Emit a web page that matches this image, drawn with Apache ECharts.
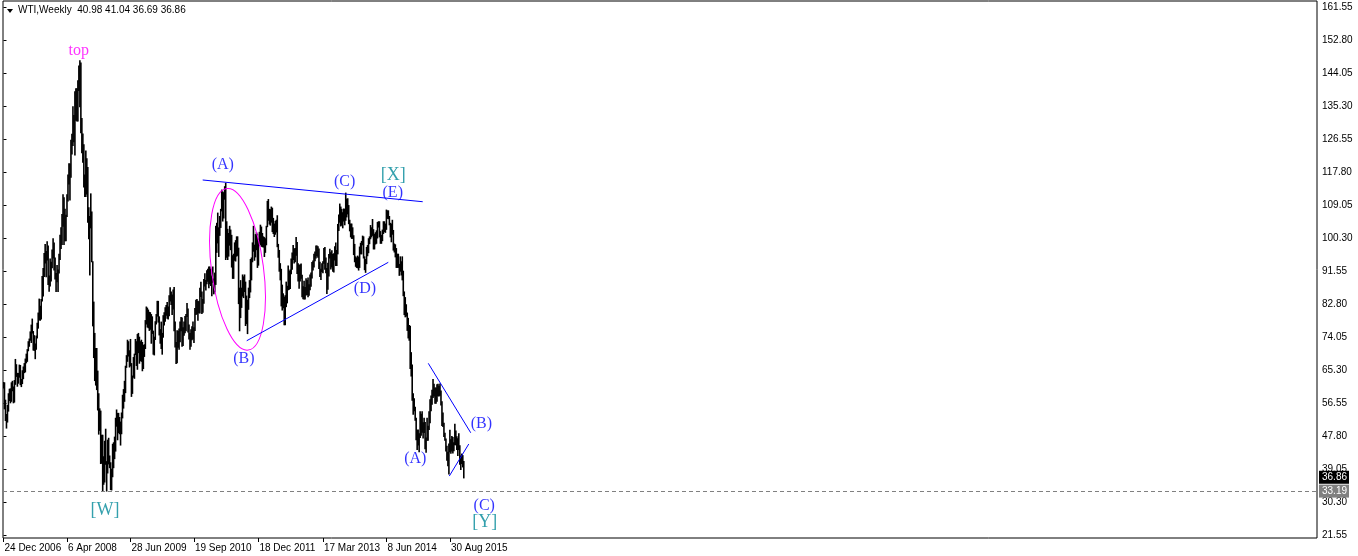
<!DOCTYPE html>
<html>
<head>
<meta charset="utf-8">
<script src="https://cdn.jsdelivr.net/npm/echarts@6/dist/echarts.min.js"></script>
<style>
html,body{margin:0;padding:0;background:#fff;}
#chart{width:1358px;height:556px;}
</style>
</head>
<body>
<div id="chart"></div>
<script>
// ---- DATA (weekly bars) ----
const symbolName = 'WTI,Weekly';
const lastBar = [40.98, 41.04, 36.69, 36.86]; // O H L C of last bar

const highs = [
 62.0,
 // 2007
 61.9,57.3,53.5,55.9,59.0,60.2,60.3,61.9,62.3,60.8,62.5,68.1,66.7,64.4,64.4,66.6,66.5,62.8,65.1,66.1,
 67.0,68.2,69.5,70.7,72.8,73.5,75.4,77.2,78.8,75.5,74.4,72.2,74.3,77.7,80.4,84.1,82.2,
 84.0,90.1,92.2,96.2,98.6,96.7,99.3,98.2,90.2,94.7,93.9,97.1,
 // 2008
 100.1,99.0,95.0,90.9,93.0,91.8,96.0,101.0,103.0,106.5,111.8,111.0,107.9,106.3,111.8,117.0,120.0,119.9,
 126.2,127.8,135.1,132.8,139.1,139.9,139.9,142.0,145.9,147.3,146.7,132.0,127.9,125.0,117.0,123.4,121.3,
 119.0,108.3,106.0,112.0,107.2,94.0,83.3,75.0,71.0,71.0,65.0,59.0,55.0,54.4,48.0,48.0,42.3,46.4,
 // 2009
 49.6,41.0,46.7,47.2,42.5,40.7,39.0,45.6,46.0,47.5,52.5,54.7,53.8,53.8,52.7,51.5,53.9,58.6,60.1,62.3,
 66.3,69.1,73.2,72.8,70.4,73.4,67.0,63.7,68.6,69.5,73.4,72.8,74.7,75.0,74.0,72.8,73.2,72.6,71.8,72.0,
 78.4,82.0,81.7,81.2,80.6,80.5,80.0,79.4,75.6,74.0,78.1,80.0,
 // 2010
 83.5,83.5,79.4,76.0,78.0,75.0,79.7,80.5,81.8,82.4,83.2,82.0,85.0,87.1,86.0,85.2,86.5,87.2,78.0,72.6,
 75.7,75.6,76.2,78.0,79.2,79.1,76.5,78.0,79.5,80.0,82.9,81.5,77.2,75.0,76.0,76.8,78.0,76.5,81.6,83.8,
 84.0,83.5,83.4,87.0,88.6,86.0,84.0,89.3,90.8,89.0,91.6,92.0,
 // 2011
 92.6,92.6,92.0,90.2,92.6,89.4,91.0,103.4,104.2,106.9,103.0,106.0,107.9,113.0,112.5,112.3,113.9,114.8,
 104.6,102.6,101.5,103.4,102.4,101.0,95.6,96.0,99.0,99.6,100.6,100.6,97.6,87.0,89.0,87.0,90.5,90.0,
 90.5,88.6,84.9,83.8,87.0,89.0,94.6,95.0,99.0,103.4,98.4,101.2,101.7,101.3,100.0,101.8,
 // 2012
 103.7,103.2,101.5,100.6,100.4,100.1,103.4,110.0,110.5,107.9,107.8,108.5,108.2,105.5,104.0,104.7,105.0,
 106.2,98.6,97.0,93.5,92.0,87.8,85.5,84.6,85.0,88.6,87.5,92.9,91.5,91.8,94.7,96.3,98.3,97.4,97.5,
 100.4,99.1,93.5,93.0,93.2,93.4,90.4,87.4,88.8,87.2,89.5,89.0,89.7,87.9,90.5,91.0,
 // 2013
 93.8,94.2,96.0,96.6,98.2,98.2,98.0,97.4,93.9,92.0,93.5,94.0,97.5,97.8,95.0,92.2,93.6,95.9,97.3,96.4,
 96.9,95.9,96.1,98.0,99.0,97.0,103.9,106.4,109.3,108.5,107.9,107.0,108.0,107.9,112.2,110.6,110.7,108.9,
 105.0,104.0,104.0,103.0,100.9,98.6,95.3,95.0,95.5,95.2,97.9,98.9,99.4,100.8,100.6,
 // 2014
 95.3,94.6,97.8,98.3,100.1,100.6,103.6,103.0,105.2,102.5,101.3,101.7,102.2,104.4,104.6,104.6,102.0,101.0,
 102.4,104.6,104.6,104.0,107.7,107.5,107.5,106.0,104.2,104.0,105.0,102.3,98.7,98.5,97.5,96.0,96.0,93.3,
 95.3,94.0,95.3,91.5,86.0,84.5,82.6,80.4,79.0,77.1,76.9,69.9,66.6,59.0,57.7,55.4,
 // 2015
 52.5,49.3,49.4,48.4,54.2,53.6,54.2,51.3,52.5,51.4,47.3,52.5,50.4,54.2,57.4,58.4,59.9,62.8,61.5,60.5,
 60.5,61.4,61.5,61.0,61.6,59.7,56.9,53.9,51.2,48.5,47.0,45.1,43.5,45.7,49.3,46.8,47.7,47.4,46.0,50.9,
 49.1,47.6,47.1,48.4,45.2,42.5,43.0,42.6,41.04
];

const lows = [
 60.5,
 // 2007
 55.0,51.9,49.9,51.5,54.4,57.2,56.6,57.0,59.8,56.6,56.8,61.5,63.6,61.0,61.8,63.4,61.4,60.9,61.7,63.0,
 64.6,64.8,67.2,67.6,70.4,71.6,73.2,72.6,75.1,70.6,70.5,68.3,70.8,73.8,76.4,78.6,78.5,
 78.8,83.6,84.9,90.1,93.7,90.0,94.5,88.0,86.2,87.6,88.9,92.4,
 // 2008
 95.0,91.8,89.4,86.1,88.7,86.1,91.0,94.6,97.5,98.6,103.4,98.6,99.6,99.6,106.0,110.1,114.6,110.4,
 116.4,122.6,124.8,125.8,122.3,131.5,131.3,131.3,139.4,135.1,128.2,122.9,120.4,113.8,111.3,111.3,112.0,
 104.5,100.1,90.5,103.0,94.0,77.0,68.6,62.5,61.3,60.1,54.7,48.3,49.3,40.5,40.6,33.2,35.0,35.6,
 // 2009
 40.3,33.2,38.0,40.4,39.4,33.6,33.5,37.0,39.4,41.8,43.8,50.4,46.8,48.7,48.4,45.4,48.4,52.6,55.2,57.0,
 59.3,66.0,67.6,69.0,66.1,66.4,58.3,59.1,63.4,63.1,69.4,66.5,65.5,69.9,67.1,67.8,67.6,65.1,65.7,68.9,
 71.0,77.5,76.7,76.5,75.8,76.1,72.4,75.0,69.5,69.3,73.4,77.5,
 // 2010
 79.6,78.0,74.6,72.4,71.0,69.5,74.0,77.2,78.2,79.8,79.0,78.8,79.7,83.6,82.7,80.0,81.5,75.7,71.4,67.0,
 67.2,71.3,70.8,72.8,75.7,71.6,71.8,74.5,75.2,75.7,79.5,75.4,73.5,70.8,71.6,73.3,73.6,72.6,75.8,80.0,
 80.2,78.5,80.5,80.4,84.8,80.3,80.6,83.0,87.6,86.5,88.2,88.8,
 // 2011
 87.1,88.2,87.7,85.0,88.6,85.5,86.0,88.0,96.5,99.0,95.4,101.0,103.1,107.5,104.8,105.6,110.6,94.6,
 95.2,94.6,95.5,98.4,97.2,92.6,89.6,89.6,94.4,94.2,95.5,95.7,82.9,75.7,79.2,81.9,84.9,84.5,
 86.1,77.1,77.6,74.95,81.4,84.5,86.0,89.2,94.0,96.8,94.4,95.3,97.2,92.5,93.1,98.3,
 // 2012
 98.6,98.1,98.0,97.9,95.4,96.5,98.5,103.3,105.0,104.0,103.7,104.5,102.0,101.5,100.7,101.3,101.9,
 98.0,95.2,91.5,89.2,82.3,81.2,81.8,77.3,77.3,82.1,83.1,86.6,86.7,86.9,90.8,92.0,94.6,93.7,94.0,
 95.7,90.9,88.9,87.0,88.9,89.6,84.7,84.2,84.1,84.1,85.2,85.3,84.7,85.1,86.6,87.5,
 // 2013
 89.7,91.8,92.6,94.3,95.0,95.6,95.2,92.2,90.1,89.3,91.4,91.1,93.6,92.0,91.1,85.6,86.7,90.2,95.0,92.1,
 92.6,91.5,91.3,94.5,93.0,93.0,96.1,102.3,104.5,103.5,103.7,103.0,104.8,103.8,105.0,105.9,106.7,104.1,
 102.2,100.6,100.2,100.2,95.9,94.0,92.8,92.5,92.4,91.8,92.5,96.1,96.1,98.5,95.0,
 // 2014
 91.9,91.2,93.5,95.6,96.4,98.8,100.1,100.6,101.0,97.4,97.4,98.7,98.9,100.3,103.2,100.6,98.9,98.9,
 99.6,101.5,102.0,101.8,102.6,105.5,105.4,103.8,100.6,99.3,101.3,97.1,96.6,95.3,92.5,92.5,92.5,90.4,
 91.5,90.5,89.2,85.0,80.0,79.4,79.6,75.8,73.8,73.2,65.7,63.7,57.3,53.6,54.5,52.0,
 // 2015
 46.8,44.2,45.4,43.6,47.4,48.0,48.8,47.3,48.7,44.4,43.5,46.7,46.7,49.5,51.3,54.5,56.2,58.0,58.4,56.5,
 56.5,57.0,58.5,58.4,58.6,56.0,50.6,50.3,47.7,46.7,43.8,41.4,39.9,37.75,43.6,43.2,43.8,43.3,43.9,45.5,
 45.5,44.2,42.6,44.2,40.3,38.9,40.5,39.6,36.69
];

// time axis: bar positions of the date labels
const xTickBars = [0, 64, 128, 192, 257, 322, 386, 450];
const xTickLabels = ['24 Dec 2006','6 Apr 2008','28 Jun 2009','19 Sep 2010','18 Dec 2011','17 Mar 2013','8 Jun 2014','30 Aug 2015'];

// price axis ticks
const yTicks = [161.55,152.80,144.05,135.30,126.55,117.80,109.05,100.30,91.55,82.80,74.05,65.30,56.55,47.80,39.05,30.30,21.55];

// horizontal levels
const supportLevel = 33.19;
const lastPrice = 36.86;

// wave labels [text, bar, price]
const blueLabels = [
 ['(A)',221.1,119.6],['(B)',242.4,68.4],['(C)',343.8,115.1],['(D)',364.4,86.9],['(E)',392.4,112.3],
 ['(A)',415.1,41.7],['(B)',481.7,50.95],['(C)',484.6,29.3]
];
const tealLabels = [['[W]',102.3,28.0],['[X]',393.0,116.9],['[Y]',485.1,24.9]];
const magentaLabels = [['top',75.9,149.9]];

// trend lines [[bar, price],[bar, price]]
const trendLines = [
 [[200.8,115.68],[422.6,109.92]],
 [[245.2,73.06],[387.9,93.85]],
 [[428.2,67.07],[471.0,48.66]],
 [[449.4,37.18],[469.0,45.67]]
];
// ellipse [centerBar, centerPrice, radiusBars, radiusPrice, tiltDeg]
const ellipseMark = [235.9, 92.0, 26.2, 21.6, 7.6];

// ---- CHART ----
const chart = echarts.init(document.getElementById('chart'), null, {renderer:'canvas'});
const FONT = 'Liberation Sans, Arial, sans-serif';
const SERIF = 'Liberation Serif, Times New Roman, serif';

const barData = highs.map((h, i) => [i, h, lows[i]]);

function labelSeries(list, color, size) {
  return {
    type:'scatter', symbolSize:1, itemStyle:{color:'rgba(0,0,0,0)'}, silent:true, z:10, clip:false,
    labelLayout:{hideOverlap:false},
    data: list.map(d => ({name:d[0], value:[d[1], d[2]]})),
    label:{show:true, position:'inside', formatter:'{b}', color:color, fontSize:size, fontFamily:SERIF}
  };
}

const series = [
  {
    type:'custom', name:'WTI', clip:true, z:3,
    encode:{x:0, y:[1,2]},
    data: barData,
    renderItem: function(params, api){
      const t = api.coord([api.value(0), api.value(1)]);
      const b = api.coord([api.value(0), api.value(2)]);
      return {type:'line', shape:{x1:t[0], y1:t[1]-0.5, x2:b[0], y2:b[1]+0.5},
              style:{stroke:'#000', lineWidth:1.6}};
    },
    markLine:{
      symbol:'none', silent:true, animation:false,
      data:[
        {yAxis:supportLevel, lineStyle:{color:'#808080', type:[4,3], width:1},
         label:{show:true, position:'end', distance:2, formatter:()=>supportLevel.toFixed(2),
                color:'#fff', backgroundColor:'#808080', padding:[2,2,1,3], fontSize:10, fontFamily:FONT}},
        {yAxis:lastPrice, lineStyle:{color:'rgba(0,0,0,0)', width:0},
         label:{show:true, position:'end', distance:2, formatter:()=>lastPrice.toFixed(2),
                color:'#fff', backgroundColor:'#000', padding:[2,2,1,3], fontSize:10, fontFamily:FONT}}
      ]
    }
  },
  {
    type:'custom', name:'ellipse', z:5, silent:true, clip:false,
    data:[ellipseMark],
    renderItem: function(params, api){
      const c = api.coord([api.value(0), api.value(1)]);
      const s = api.size([api.value(2), api.value(3)]);
      return {type:'ellipse', x:c[0], y:c[1], rotation: api.value(4)*Math.PI/180,
              shape:{cx:0, cy:0, rx:s[0], ry:s[1]},
              style:{fill:null, stroke:'#ff00ff', lineWidth:1}};
    }
  },
  ...trendLines.map(l => ({
    type:'line', data:l, symbol:'none', silent:true, z:6,
    lineStyle:{color:'#0000ff', width:1}
  })),
  labelSeries(blueLabels, '#0000ff', 16),
  labelSeries(tealLabels, '#008898', 18),
  labelSeries(magentaLabels, '#ff00ff', 16)
];

const option = {
  animation:false,
  backgroundColor:'#fff',
  grid:{left:3, right:41, top:1, bottom:18, show:true, borderColor:'#000', borderWidth:1, backgroundColor:'#fff'},
  xAxis:{
    type:'value', min:-0.5, max:1324.1,
    axisLine:{show:false},
    splitLine:{show:false},
    axisTick:{show:true, customValues:xTickBars, length:4, lineStyle:{color:'#000'}},
    axisLabel:{show:true, customValues:xTickBars, align:'left', margin:5,
      formatter:(v)=>{ const i = xTickBars.findIndex(t=>Math.abs(t-v)<0.01); return i>=0 ? xTickLabels[i] : ''; },
      color:'#000', fontSize:10, fontFamily:FONT, padding:[0,0,0,1]}
  },
  yAxis:{
    type:'value', position:'right', min:20.755, max:163.141,
    axisLine:{show:false},
    splitLine:{show:false},
    axisTick:{show:true, customValues:yTicks, length:3, lineStyle:{color:'#000'}},
    axisLabel:{show:true, customValues:yTicks, margin:5, formatter:(v)=>Number(v).toFixed(2),
      color:'#000', fontSize:10, fontFamily:FONT}
  },
  graphic:[
    {type:'polygon', shape:{points:[[7,9],[13,9],[10,13]]}, style:{fill:'#000'}},
    {type:'text', left:18, top:5, style:{text: symbolName + '  ' + lastBar.map(v=>v.toFixed(2)).join(' '),
      fill:'#000', font:'10px ' + FONT}}
  ],
  series: series
};
chart.setOption(option);
</script>
</body>
</html>
